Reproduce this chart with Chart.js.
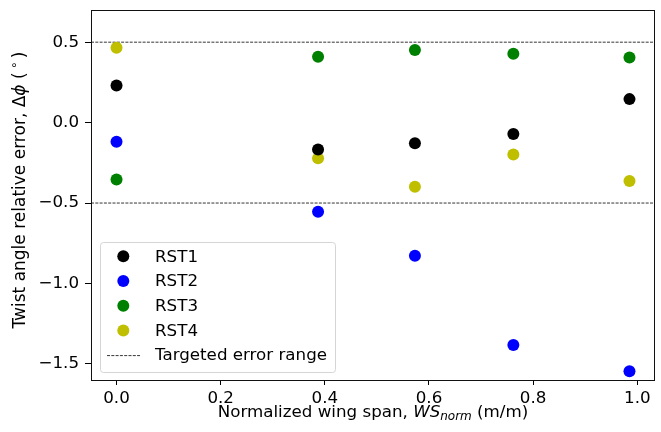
<!DOCTYPE html>
<html>
<head>
<meta charset="utf-8">
<script src="https://cdn.jsdelivr.net/npm/chart.js@4.4.0/dist/chart.umd.min.js"></script>
<style>
  html, body { margin: 0; padding: 0; background: #fff; }
</style>
</head>
<body>
<canvas id="chart" width="661" height="432"></canvas>
<script>
/* ── Data ──────────────────────────────────────────────────── */
const SPAN     = [0.0, 0.387, 0.573, 0.762, 0.985];
const RST1     = [0.231, -0.167, -0.129, -0.071, 0.146];
const RST2     = [-0.119, -0.554, -0.828, -1.382, -1.545];
const RST3     = [-0.353, 0.409, 0.452, 0.428, 0.405];
const RST4     = [0.465, -0.222, -0.399, -0.198, -0.363];
const TARGET   = [0.5, -0.5];
const X_RANGE  = [-0.049, 1.034];
const Y_RANGE  = [-1.6, 0.7];
const X_TICKS  = [0.0, 0.2, 0.4, 0.6, 0.8, 1.0];
const Y_TICKS  = [-1.5, -1.0, -0.5, 0.0, 0.5];

const FONT = '"DejaVu Sans", sans-serif';
const FS   = 16.7;

const pts = ys => SPAN.map((x, i) => ({ x: x, y: ys[i] }));
const hline = y => X_RANGE.map(x => ({ x: x, y: y }));
const fmt = v => Number(v).toFixed(1).replace('-', '\u2212');

const scatter = (label, ys, color) => ({
  label: label, data: pts(ys), showLine: false,
  backgroundColor: color, borderColor: color, borderWidth: 0,
  pointRadius: 6, pointHoverRadius: 6
});

const dashed = (y, label, hide) => ({
  label: label, data: hline(y), showLine: true, legendHide: hide,
  borderColor: '#000', borderWidth: 0.8, borderDash: [3, 1.3],
  pointRadius: 0, fill: false, order: 10
});

/* ── Draw a run of mixed-style text, centred on (cx, cy) ───── */
function drawRuns(ctx, runs, cx, cy, rotate) {
  ctx.save();
  ctx.translate(cx, cy);
  if (rotate) ctx.rotate(-Math.PI / 2);
  ctx.textBaseline = 'alphabetic';
  ctx.fillStyle = '#000';
  let total = 0;
  runs.forEach(r => { ctx.font = r.font; total += ctx.measureText(r.t).width; });
  let x = -total / 2;
  runs.forEach(r => {
    ctx.font = r.font;
    ctx.fillText(r.t, x, 6 + (r.dy || 0));
    x += ctx.measureText(r.t).width;
  });
  ctx.restore();
}

/* ── Frame, axis titles and in-plot legend ─────────────────── */
const decor = {
  id: 'decor',
  afterDraw(chart) {
    const ctx = chart.ctx, a = chart.chartArea;

    ctx.save();
    ctx.strokeStyle = '#111';
    ctx.lineWidth = 1;
    ctx.strokeRect(Math.round(a.left) + 0.5, Math.round(a.top) + 0.5,
                   Math.round(a.right - a.left) - 1, Math.round(a.bottom - a.top));
    ctx.restore();

    const n = FS + 'px ' + FONT, it = 'italic ' + FS + 'px ' + FONT;
    const sub = 'italic 12px ' + FONT;
    drawRuns(ctx, [
      { t: 'Normalized wing span, ', font: n },
      { t: 'WS', font: it },
      { t: 'norm', font: sub, dy: 3 },
      { t: ' (m/m)', font: n }
    ], (a.left + a.right) / 2, 411, false);

    const ny = '17px ' + FONT, iy = 'italic 17px ' + FONT;
    drawRuns(ctx, [
      { t: 'Twist angle relative error, \u0394', font: ny },
      { t: '\u03d5', font: iy },
      { t: ' (\u2009', font: ny },
      { t: '\u2218', font: '12px ' + FONT, dy: -7 },
      { t: '\u2009)', font: ny }
    ], 19, 190, true);

    // legend box
    const items = chart.data.datasets.filter(d => !d.legendHide);
    ctx.save();
    ctx.font = n;
    const tw = Math.max(...items.map(d => ctx.measureText(d.label).width));
    const bx = a.left + 9, by = a.bottom - 8;
    const bw = 55 + tw + 8, bh = 130;
    const top = by - bh;
    ctx.beginPath();
    ctx.roundRect(bx + 0.5, top + 0.5, bw, bh, 3);
    ctx.fillStyle = 'rgba(255,255,255,0.8)';
    ctx.fill();
    ctx.strokeStyle = '#d5d5d5';
    ctx.lineWidth = 1;
    ctx.stroke();
    items.forEach((d, i) => {
      const cy = top + 14.3 + i * 24.7;
      if (d.showLine) {
        ctx.beginPath();
        ctx.setLineDash(d.borderDash);
        ctx.strokeStyle = d.borderColor;
        ctx.lineWidth = d.borderWidth;
        ctx.moveTo(bx + 7, cy + 0.5);
        ctx.lineTo(bx + 40, cy + 0.5);
        ctx.stroke();
        ctx.setLineDash([]);
      } else {
        ctx.beginPath();
        ctx.arc(bx + 23.3, cy, 6, 0, Math.PI * 2);
        ctx.fillStyle = d.backgroundColor;
        ctx.fill();
      }
      ctx.fillStyle = '#000';
      ctx.textBaseline = 'middle';
      ctx.fillText(d.label, bx + 55, cy + 1);
    });
    ctx.restore();
  }
};

new Chart(document.getElementById('chart'), {
  type: 'scatter',
  data: {
    datasets: [
      scatter('RST1', RST1, '#000000'),
      scatter('RST2', RST2, '#0000ff'),
      scatter('RST3', RST3, '#008000'),
      scatter('RST4', RST4, '#bfbf00'),
      dashed(TARGET[0], 'Targeted error range', false),
      dashed(TARGET[1], 'Targeted error range', true)
    ]
  },
  options: {
    responsive: false,
    animation: false,
    devicePixelRatio: 1,
    layout: { padding: { top: 10, right: 1, left: 0, bottom: 0 } },
    plugins: { legend: { display: false }, tooltip: { enabled: false } },
    scales: {
      x: {
        type: 'linear', min: X_RANGE[0], max: X_RANGE[1],
        afterBuildTicks: s => { s.ticks = X_TICKS.map(v => ({ value: v })); },
        afterFit: s => { s.height = 52; s.paddingLeft = 0; s.paddingRight = 0; },
        grid: { drawOnChartArea: false, drawTicks: true, tickLength: 5, color: '#000' },
        border: { display: false },
        ticks: { color: '#000', font: { family: FONT, size: FS }, padding: 4, maxRotation: 0,
                 callback: v => fmt(v) }
      },
      y: {
        type: 'linear', min: Y_RANGE[0], max: Y_RANGE[1],
        afterBuildTicks: s => { s.ticks = Y_TICKS.map(v => ({ value: v })); },
        afterFit: s => { s.width = 91; s.paddingTop = 0; s.paddingBottom = 0; },
        grid: { drawOnChartArea: false, drawTicks: true, tickLength: 6, color: '#000' },
        border: { display: false },
        ticks: { color: '#000', font: { family: FONT, size: FS }, padding: 6,
                 callback: v => fmt(v) }
      }
    }
  },
  plugins: [decor]
});
</script>
</body>
</html>
